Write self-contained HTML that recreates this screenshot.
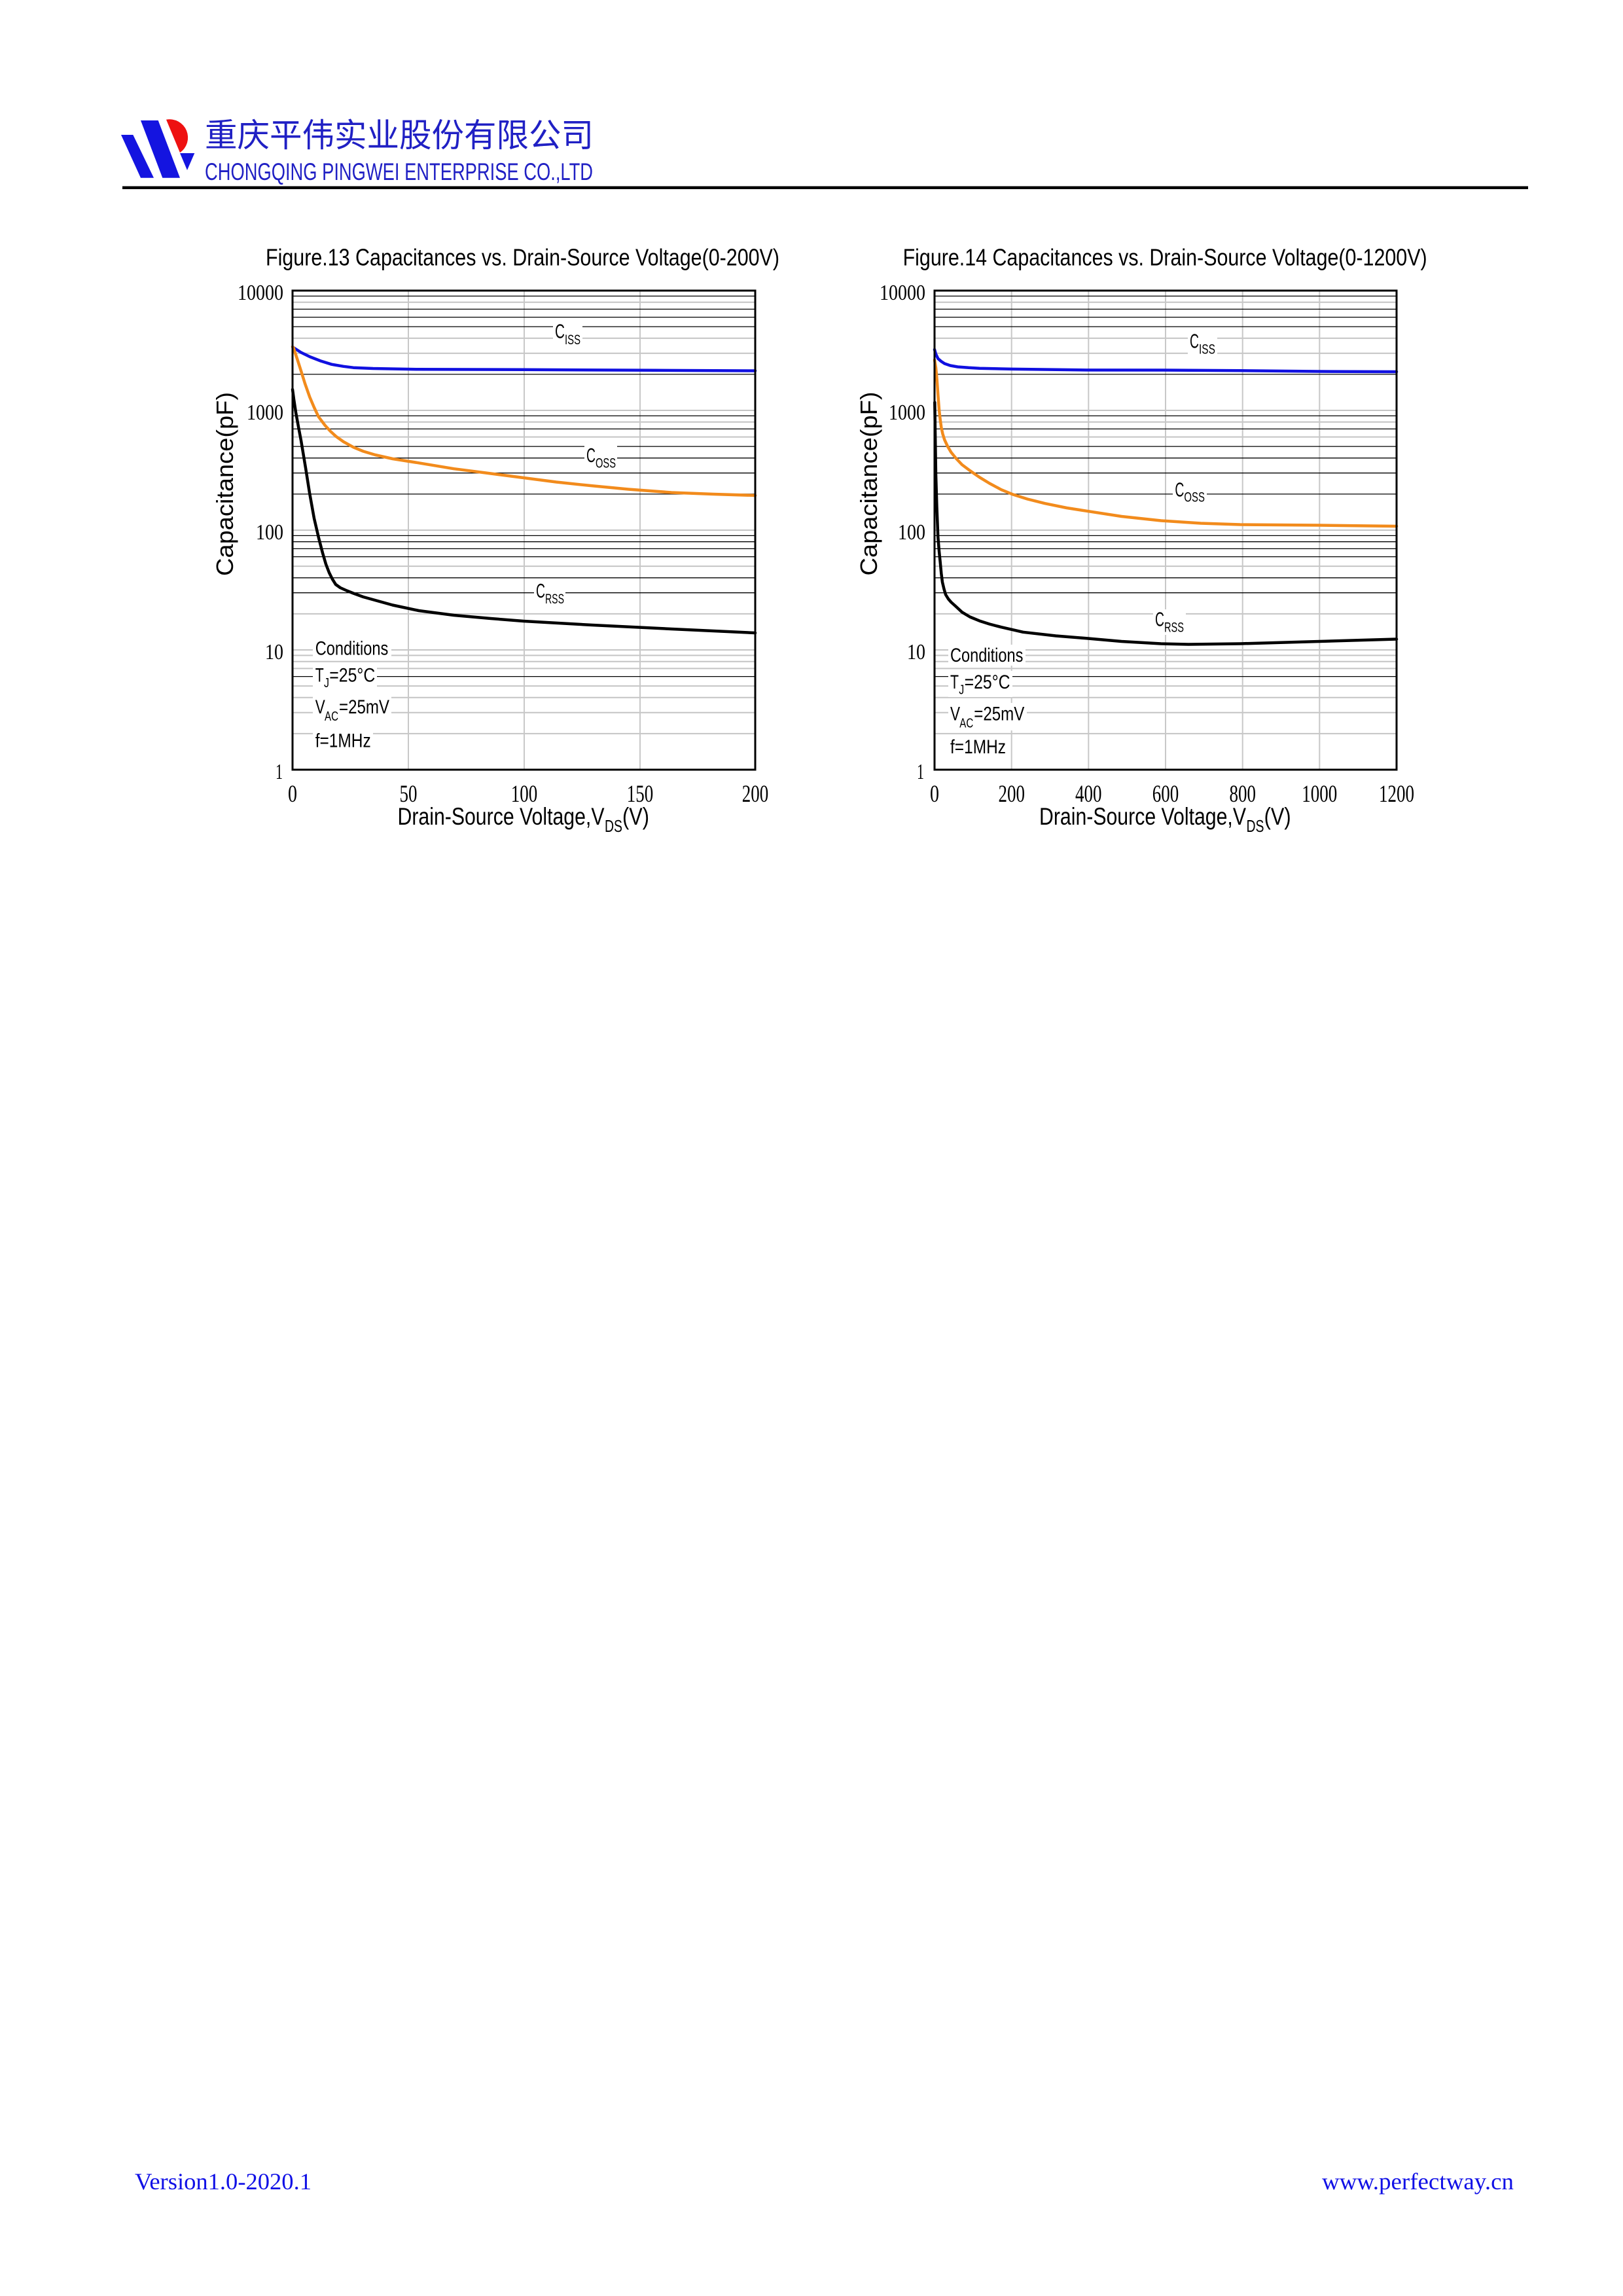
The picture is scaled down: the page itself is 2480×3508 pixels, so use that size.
<!DOCTYPE html>
<html><head><meta charset="utf-8"><style>
html,body{margin:0;padding:0;background:#fff;}
svg{display:block;}
.s{font-family:"Liberation Sans",sans-serif;fill:#000;}
.r{font-family:"Liberation Serif",serif;fill:#000;}
.g{stroke:#c4c4c4;stroke-width:2;}
.b{stroke:#000;stroke-width:1.3;}
.v{stroke:#c8c8c8;stroke-width:2;}
</style></head><body>
<svg width="2480" height="3508" viewBox="0 0 2480 3508" xmlns="http://www.w3.org/2000/svg">
<rect x="0" y="0" width="2480" height="3508" fill="#fff"/>

<!-- Header logo -->
<polygon points="185,206 203.3,206 235,271.7 215,271.7" fill="#1414e0"/>
<polygon points="215,184 241.7,184 275,271.7 248.3,271.7" fill="#1414e0"/>
<path d="M254,182.7 L275,233.3 A28 28 0 0 0 254,182.7 Z" fill="#ee1111"/>
<polygon points="275,234 297.3,234 286,260" fill="#1414e0"/>
<text x="313" y="224" font-family="'Liberation Sans','Noto Sans CJK SC',sans-serif" font-size="50" fill="#2020c4" textLength="594" lengthAdjust="spacingAndGlyphs">重庆平伟实业股份有限公司</text>
<text x="313" y="275" class="s" font-size="37" style="fill:#2020c4" textLength="593" lengthAdjust="spacingAndGlyphs">CHONGQING PINGWEI ENTERPRISE CO.,LTD</text>
<rect x="187" y="284.5" width="2148" height="4.5" fill="#000"/>

<!-- ===== Figure 13 ===== -->
<text x="406" y="405.5" class="s" font-size="36" textLength="785" lengthAdjust="spacingAndGlyphs">Figure.13 Capacitances vs. Drain-Source Voltage(0-200V)</text>
<g>
<line class="g" x1="447" x2="1154" y1="461.7" y2="461.7"/>
<line class="g" x1="447" x2="1154" y1="516.8" y2="516.8"/>
<line class="g" x1="447" x2="1154" y1="539.7" y2="539.7"/>
<line class="g" x1="447" x2="1154" y1="627" y2="627"/>
<line class="g" x1="447" x2="1154" y1="644.7" y2="644.7"/>
<line class="g" x1="447" x2="1154" y1="667.6" y2="667.6"/>
<line class="g" x1="447" x2="1154" y1="810" y2="810"/>
<line class="g" x1="447" x2="1154" y1="865.1" y2="865.1"/>
<line class="g" x1="447" x2="1154" y1="937.9" y2="937.9"/>
<line class="g" x1="447" x2="1154" y1="993" y2="993"/>
<line class="g" x1="447" x2="1154" y1="1001.4" y2="1001.4"/>
<line class="g" x1="447" x2="1154" y1="1010.7" y2="1010.7"/>
<line class="g" x1="447" x2="1154" y1="1021.35" y2="1021.35"/>
<line class="g" x1="447" x2="1154" y1="1048.1" y2="1048.1"/>
<line class="g" x1="447" x2="1154" y1="1065.8" y2="1065.8"/>
<line class="g" x1="447" x2="1154" y1="1088.7" y2="1088.7"/>
<line class="g" x1="447" x2="1154" y1="1120.9" y2="1120.9"/>
<line class="v" x1="624" x2="624" y1="444" y2="1176"/>
<line class="v" x1="801" x2="801" y1="444" y2="1176"/>
<line class="v" x1="978" x2="978" y1="444" y2="1176"/>
<line class="b" x1="447" x2="1154" y1="452.4" y2="452.4"/>
<line class="b" x1="447" x2="1154" y1="472.35" y2="472.35"/>
<line class="b" x1="447" x2="1154" y1="484.6" y2="484.6"/>
<line class="b" x1="447" x2="1154" y1="499.1" y2="499.1"/>
<line class="b" x1="447" x2="1154" y1="571.9" y2="571.9"/>
<line class="b" x1="447" x2="1154" y1="635.4" y2="635.4"/>
<line class="b" x1="447" x2="1154" y1="655.35" y2="655.35"/>
<line class="b" x1="447" x2="1154" y1="682.1" y2="682.1"/>
<line class="b" x1="447" x2="1154" y1="699.8" y2="699.8"/>
<line class="b" x1="447" x2="1154" y1="722.7" y2="722.7"/>
<line class="b" x1="447" x2="1154" y1="754.9" y2="754.9"/>
<line class="b" x1="447" x2="1154" y1="818.4" y2="818.4"/>
<line class="b" x1="447" x2="1154" y1="827.7" y2="827.7"/>
<line class="b" x1="447" x2="1154" y1="838.35" y2="838.35"/>
<line class="b" x1="447" x2="1154" y1="850.6" y2="850.6"/>
<line class="b" x1="447" x2="1154" y1="882.8" y2="882.8"/>
<line class="b" x1="447" x2="1154" y1="905.7" y2="905.7"/>
<line class="b" x1="447" x2="1154" y1="1033.6" y2="1033.6"/>
</g>
<!-- label backgrounds fig13 -->
<g fill="#fff">
<rect x="845" y="492" width="45" height="38"/>
<rect x="893" y="679" width="50" height="40"/>
<rect x="816" y="887" width="48" height="40"/>
<rect x="478" y="974" width="120" height="32"/>
<rect x="478" y="1015" width="98" height="40"/>
<rect x="478" y="1063" width="120" height="42"/>
<rect x="478" y="1114" width="92" height="33"/>
</g>
<!-- curves fig13 -->
<g fill="none" stroke-width="4.5" stroke-linejoin="round" stroke-linecap="round">
<path stroke="#1010e0" d="M447,530 L448.3,531 L460,538.5 L473.3,545 L490,551.5 L506.7,556.7 L525,559.8 L540,561.7 L570,563 L640,564.3 L800,564.8 L1000,565.8 L1154,566.5"/>
<path stroke="#f28b1c" d="M447,530 L448.3,531 L454,548 L460,566.7 L466,586 L473.3,606.7 L480,622.5 L486.7,636.7 L496.7,650 L505,659 L513.3,666.7 L525,675 L540,683.3 L555,689.5 L573.3,695 L600,701 L640,707.3 L693.5,716.2 L750,723.5 L800,730 L850,736.5 L905,742.3 L960,747.5 L1026,752.5 L1090,755 L1154,757"/>
<path stroke="#000" d="M447,595 L449,610 L452,630 L456,652 L460,673 L467,715 L473,753 L480,792 L487,822 L493,845 L498,862 L503,875 L508,885 L513,893 L520,898 L530,902.5 L540,906.5 L555,912 L573,917 L600,924.5 L640,933 L693.5,940 L750,945 L800,949 L905,955 L1026,961 L1154,967"/>
</g>
<rect x="447" y="444" width="707" height="732" fill="none" stroke="#000" stroke-width="3"/>
<!-- series labels fig13 -->
<text x="848" y="516.5" class="s" font-size="31" textLength="15" lengthAdjust="spacingAndGlyphs">C</text>
<text x="863" y="526" class="s" font-size="21" textLength="24" lengthAdjust="spacingAndGlyphs">ISS</text>
<text x="896" y="706" class="s" font-size="31" textLength="14" lengthAdjust="spacingAndGlyphs">C</text>
<text x="910" y="714.5" class="s" font-size="21" textLength="31" lengthAdjust="spacingAndGlyphs">OSS</text>
<text x="819" y="913" class="s" font-size="31" textLength="14" lengthAdjust="spacingAndGlyphs">C</text>
<text x="833" y="922" class="s" font-size="21" textLength="29" lengthAdjust="spacingAndGlyphs">RSS</text>
<!-- conditions fig13 -->
<text x="481.7" y="1000.5" class="s" font-size="30" textLength="111.6" lengthAdjust="spacingAndGlyphs">Conditions</text>
<text x="481.7" y="1041.7" class="s" font-size="30" textLength="13" lengthAdjust="spacingAndGlyphs">T</text>
<text x="495" y="1050" class="s" font-size="20" textLength="8" lengthAdjust="spacingAndGlyphs">J</text>
<text x="503.3" y="1041.7" class="s" font-size="30" textLength="70" lengthAdjust="spacingAndGlyphs">=25°C</text>
<text x="481.7" y="1090" class="s" font-size="30" textLength="15" lengthAdjust="spacingAndGlyphs">V</text>
<text x="496" y="1101" class="s" font-size="20" textLength="21" lengthAdjust="spacingAndGlyphs">AC</text>
<text x="518" y="1090" class="s" font-size="30" textLength="77" lengthAdjust="spacingAndGlyphs">=25mV</text>
<text x="481.7" y="1141.7" class="s" font-size="30" textLength="85" lengthAdjust="spacingAndGlyphs">f=1MHz</text>
<!-- y ticks fig13 -->
<g class="r" font-size="34" text-anchor="end">
<text x="433" y="458" textLength="70" lengthAdjust="spacingAndGlyphs">10000</text>
<text x="433" y="641" textLength="56" lengthAdjust="spacingAndGlyphs">1000</text>
<text x="433" y="824" textLength="42" lengthAdjust="spacingAndGlyphs">100</text>
<text x="433" y="1007" textLength="28" lengthAdjust="spacingAndGlyphs">10</text>
<text x="432" y="1190" textLength="11" lengthAdjust="spacingAndGlyphs">1</text>
</g>
<!-- x ticks fig13 -->
<g class="r" font-size="37" text-anchor="middle">
<text x="447" y="1225" textLength="14" lengthAdjust="spacingAndGlyphs">0</text>
<text x="624" y="1225" textLength="27" lengthAdjust="spacingAndGlyphs">50</text>
<text x="801" y="1225" textLength="40.5" lengthAdjust="spacingAndGlyphs">100</text>
<text x="978" y="1225" textLength="40.5" lengthAdjust="spacingAndGlyphs">150</text>
<text x="1154" y="1225" textLength="40.5" lengthAdjust="spacingAndGlyphs">200</text>
</g>
<text x="607.5" y="1260" class="s" font-size="37" textLength="316" lengthAdjust="spacingAndGlyphs">Drain-Source Voltage,V</text>
<text x="924" y="1271" class="s" font-size="26" textLength="27" lengthAdjust="spacingAndGlyphs">DS</text>
<text x="951" y="1260" class="s" font-size="37" textLength="41" lengthAdjust="spacingAndGlyphs">(V)</text>
<text transform="translate(356,739.5) rotate(-90)" text-anchor="middle" class="s" font-size="36" textLength="281" lengthAdjust="spacingAndGlyphs">Capacitance(pF)</text>

<!-- ===== Figure 14 ===== -->
<text x="1379.6" y="405.5" class="s" font-size="36" textLength="801" lengthAdjust="spacingAndGlyphs">Figure.14 Capacitances vs. Drain-Source Voltage(0-1200V)</text>
<g>
<line class="g" x1="1428" x2="2134" y1="461.7" y2="461.7"/>
<line class="g" x1="1428" x2="2134" y1="516.8" y2="516.8"/>
<line class="g" x1="1428" x2="2134" y1="539.7" y2="539.7"/>
<line class="g" x1="1428" x2="2134" y1="627" y2="627"/>
<line class="g" x1="1428" x2="2134" y1="644.7" y2="644.7"/>
<line class="g" x1="1428" x2="2134" y1="667.6" y2="667.6"/>
<line class="g" x1="1428" x2="2134" y1="810" y2="810"/>
<line class="g" x1="1428" x2="2134" y1="865.1" y2="865.1"/>
<line class="g" x1="1428" x2="2134" y1="937.9" y2="937.9"/>
<line class="g" x1="1428" x2="2134" y1="993" y2="993"/>
<line class="g" x1="1428" x2="2134" y1="1001.4" y2="1001.4"/>
<line class="g" x1="1428" x2="2134" y1="1010.7" y2="1010.7"/>
<line class="g" x1="1428" x2="2134" y1="1021.35" y2="1021.35"/>
<line class="g" x1="1428" x2="2134" y1="1048.1" y2="1048.1"/>
<line class="g" x1="1428" x2="2134" y1="1065.8" y2="1065.8"/>
<line class="g" x1="1428" x2="2134" y1="1088.7" y2="1088.7"/>
<line class="g" x1="1428" x2="2134" y1="1120.9" y2="1120.9"/>
<line class="v" x1="1545.7" x2="1545.7" y1="444" y2="1176"/>
<line class="v" x1="1663.3" x2="1663.3" y1="444" y2="1176"/>
<line class="v" x1="1781" x2="1781" y1="444" y2="1176"/>
<line class="v" x1="1898.7" x2="1898.7" y1="444" y2="1176"/>
<line class="v" x1="2016.3" x2="2016.3" y1="444" y2="1176"/>
<line class="b" x1="1428" x2="2134" y1="452.4" y2="452.4"/>
<line class="b" x1="1428" x2="2134" y1="472.35" y2="472.35"/>
<line class="b" x1="1428" x2="2134" y1="484.6" y2="484.6"/>
<line class="b" x1="1428" x2="2134" y1="499.1" y2="499.1"/>
<line class="b" x1="1428" x2="2134" y1="571.9" y2="571.9"/>
<line class="b" x1="1428" x2="2134" y1="635.4" y2="635.4"/>
<line class="b" x1="1428" x2="2134" y1="655.35" y2="655.35"/>
<line class="b" x1="1428" x2="2134" y1="682.1" y2="682.1"/>
<line class="b" x1="1428" x2="2134" y1="699.8" y2="699.8"/>
<line class="b" x1="1428" x2="2134" y1="722.7" y2="722.7"/>
<line class="b" x1="1428" x2="2134" y1="754.9" y2="754.9"/>
<line class="b" x1="1428" x2="2134" y1="818.4" y2="818.4"/>
<line class="b" x1="1428" x2="2134" y1="827.7" y2="827.7"/>
<line class="b" x1="1428" x2="2134" y1="838.35" y2="838.35"/>
<line class="b" x1="1428" x2="2134" y1="850.6" y2="850.6"/>
<line class="b" x1="1428" x2="2134" y1="882.8" y2="882.8"/>
<line class="b" x1="1428" x2="2134" y1="905.7" y2="905.7"/>
<line class="b" x1="1428" x2="2134" y1="1033.6" y2="1033.6"/>
</g>
<g fill="#fff">
<rect x="1815" y="507" width="45" height="38"/>
<rect x="1792" y="733" width="52" height="38"/>
<rect x="1762" y="931" width="50" height="39"/>
<rect x="1449" y="985" width="118" height="32"/>
<rect x="1449" y="1025" width="98" height="40"/>
<rect x="1449" y="1074" width="120" height="42"/>
<rect x="1449" y="1124" width="92" height="33"/>
</g>
<g fill="none" stroke-width="4.5" stroke-linejoin="round" stroke-linecap="round">
<path stroke="#1010e0" d="M1428,534 L1430,541 L1433.3,547.9 L1438,552 L1443.3,555.5 L1452,558.5 L1463.3,560.5 L1480,561.8 L1496.7,562.7 L1546.7,563.9 L1660,565.4 L1774,565.5 L1895,566.3 L2016,567.5 L2134,568"/>
<path stroke="#f28b1c" d="M1428,549.8 L1430,562 L1431.7,580.3 L1433.3,603 L1435,626 L1436.7,641 L1438.3,652.8 L1440.5,663 L1443.3,671.9 L1448,682 L1453.3,691 L1461,700.5 L1470,710 L1482,719 L1496.7,729.2 L1512,738.5 L1530,748.2 L1546.7,755.1 L1570,762.5 L1596.7,769.2 L1630,776 L1660,780.7 L1713.7,789 L1774,795.5 L1835,799.5 L1895,801.5 L2016,802.5 L2134,804"/>
<path stroke="#000" d="M1428.3,614.7 L1429,660 L1430,725 L1431.5,775 L1433.3,820.8 L1435,842 L1436.7,858.9 L1438.3,876 L1440,889.5 L1442.5,900 L1445,908.5 L1449,915 L1453.3,920 L1460,926 L1470,935.3 L1482,942.5 L1496.7,948.6 L1512,953.5 L1530,958.2 L1563.3,965.8 L1613.3,971.5 L1660,975.3 L1713.7,980 L1774,983.5 L1816,984.5 L1895,983.5 L2016,980 L2134,976.5"/>
</g>
<rect x="1428" y="444" width="706" height="732" fill="none" stroke="#000" stroke-width="3"/>
<text x="1818" y="531.6" class="s" font-size="31" textLength="14" lengthAdjust="spacingAndGlyphs">C</text>
<text x="1832" y="540.7" class="s" font-size="21" textLength="25" lengthAdjust="spacingAndGlyphs">ISS</text>
<text x="1795.4" y="758.6" class="s" font-size="31" textLength="14" lengthAdjust="spacingAndGlyphs">C</text>
<text x="1809.4" y="766.5" class="s" font-size="21" textLength="31.5" lengthAdjust="spacingAndGlyphs">OSS</text>
<text x="1765" y="956.5" class="s" font-size="31" textLength="14" lengthAdjust="spacingAndGlyphs">C</text>
<text x="1779" y="965.6" class="s" font-size="21" textLength="30" lengthAdjust="spacingAndGlyphs">RSS</text>
<text x="1452" y="1011" class="s" font-size="30" textLength="111.4" lengthAdjust="spacingAndGlyphs">Conditions</text>
<text x="1452" y="1052" class="s" font-size="30" textLength="13" lengthAdjust="spacingAndGlyphs">T</text>
<text x="1465.3" y="1060.3" class="s" font-size="20" textLength="8" lengthAdjust="spacingAndGlyphs">J</text>
<text x="1473.6" y="1052" class="s" font-size="30" textLength="70" lengthAdjust="spacingAndGlyphs">=25°C</text>
<text x="1452" y="1100.6" class="s" font-size="30" textLength="15" lengthAdjust="spacingAndGlyphs">V</text>
<text x="1466.3" y="1111.6" class="s" font-size="20" textLength="21" lengthAdjust="spacingAndGlyphs">AC</text>
<text x="1488.3" y="1100.6" class="s" font-size="30" textLength="77" lengthAdjust="spacingAndGlyphs">=25mV</text>
<text x="1452" y="1151" class="s" font-size="30" textLength="85" lengthAdjust="spacingAndGlyphs">f=1MHz</text>
<g class="r" font-size="34" text-anchor="end">
<text x="1414" y="458" textLength="70" lengthAdjust="spacingAndGlyphs">10000</text>
<text x="1414" y="641" textLength="56" lengthAdjust="spacingAndGlyphs">1000</text>
<text x="1414" y="824" textLength="42" lengthAdjust="spacingAndGlyphs">100</text>
<text x="1414" y="1007" textLength="28" lengthAdjust="spacingAndGlyphs">10</text>
<text x="1412" y="1190" textLength="11" lengthAdjust="spacingAndGlyphs">1</text>
</g>
<g class="r" font-size="37" text-anchor="middle">
<text x="1428" y="1225" textLength="14" lengthAdjust="spacingAndGlyphs">0</text>
<text x="1545.7" y="1225" textLength="40.5" lengthAdjust="spacingAndGlyphs">200</text>
<text x="1663.3" y="1225" textLength="40.5" lengthAdjust="spacingAndGlyphs">400</text>
<text x="1781" y="1225" textLength="40.5" lengthAdjust="spacingAndGlyphs">600</text>
<text x="1898.7" y="1225" textLength="40.5" lengthAdjust="spacingAndGlyphs">800</text>
<text x="2016.3" y="1225" textLength="54" lengthAdjust="spacingAndGlyphs">1000</text>
<text x="2134" y="1225" textLength="54" lengthAdjust="spacingAndGlyphs">1200</text>
</g>
<text x="1588" y="1260" class="s" font-size="37" textLength="316" lengthAdjust="spacingAndGlyphs">Drain-Source Voltage,V</text>
<text x="1904.5" y="1271" class="s" font-size="26" textLength="27" lengthAdjust="spacingAndGlyphs">DS</text>
<text x="1931.6" y="1260" class="s" font-size="37" textLength="41" lengthAdjust="spacingAndGlyphs">(V)</text>
<text transform="translate(1340,739) rotate(-90)" text-anchor="middle" class="s" font-size="36" textLength="281" lengthAdjust="spacingAndGlyphs">Capacitance(pF)</text>

<!-- Footer -->
<text x="206" y="3345" font-family="'Liberation Serif',serif" font-size="36" fill="#1010e6" textLength="270" lengthAdjust="spacingAndGlyphs">Version1.0-2020.1</text>
<text x="2020" y="3345" font-family="'Liberation Serif',serif" font-size="36" fill="#1010e6" textLength="293" lengthAdjust="spacingAndGlyphs">www.perfectway.cn</text>
</svg>
</body></html>
